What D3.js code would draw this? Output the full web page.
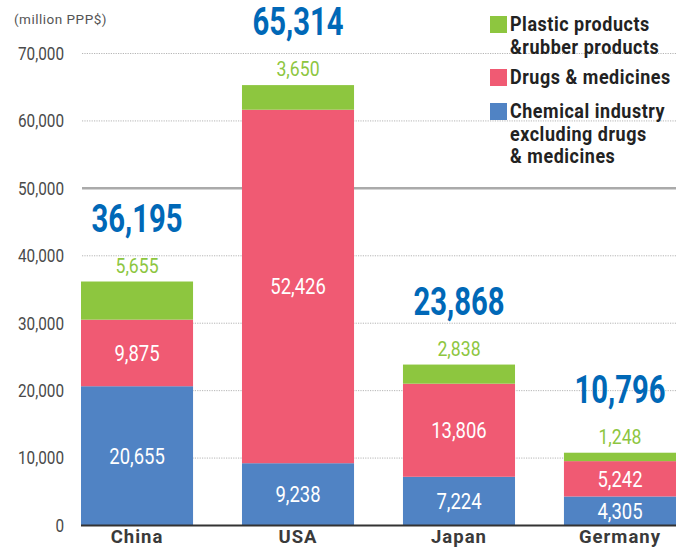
<!DOCTYPE html>
<html>
<head>
<meta charset="utf-8">
<script src="https://cdn.jsdelivr.net/npm/d3@7"></script>
<style>
  html, body { margin: 0; padding: 0; background: #fff; }
  svg { display: block; }
  text { font-family: Roboto, "Liberation Sans", sans-serif; }
</style>
</head>
<body>
<svg id="chart" width="687" height="548"></svg>
<script>
// Chemical industry output by country (million PPP$)
const countries = ["China", "USA", "Japan", "Germany"];
const chemical  = [20655, 9238, 7224, 4305];
const drugs     = [9875, 52426, 13806, 5242];
const plastic   = [5655, 3650, 2838, 1248];
const totals    = [36195, 65314, 23868, 10796];
const yTicks    = [0, 10000, 20000, 30000, 40000, 50000, 60000, 70000];

const seriesKeys = ["chemical", "drugs", "plastic"];
const seriesColor = { chemical: "#5083c4", drugs: "#f05a73", plastic: "#8dc63f" };
const legendItems = [
  { key: "plastic",  lines: ["Plastic products", "&rubber products"], y: 16 },
  { key: "drugs",    lines: ["Drugs & medicines"], y: 69 },
  { key: "chemical", lines: ["Chemical industry", "excluding drugs", "& medicines"], y: 103 }
];

const rows = countries.map((c, i) => ({
  country: c, chemical: chemical[i], drugs: drugs[i], plastic: plastic[i], total: totals[i]
}));

const svg = d3.select("#chart");
const fmt = d3.format(",");

const x = d3.scaleBand().domain(countries).range([81, 676]).paddingInner(0.304).paddingOuter(0);
const y = d3.scaleLinear().domain([0, 70000]).range([525.5, 53.5]);

// squeezed text helper (condensed look)
function label(g, txt, cx, baseline, opts) {
  return g.append("text")
    .attr("transform", `translate(${cx},${baseline}) scale(${opts.sx || 1},1)`)
    .attr("text-anchor", opts.anchor || "middle")
    .attr("font-size", opts.size)
    .attr("font-weight", opts.weight || 400)
    .attr("letter-spacing", opts.ls || 0)
    .attr("fill", opts.fill)
    .text(txt);
}

// unit caption
svg.append("text")
  .attr("x", 14).attr("y", 24)
  .attr("font-size", 13.5).attr("letter-spacing", 0.5)
  .attr("fill", "#555")
  .text("(million PPP$)");

// gridlines
const grid = svg.append("g");
grid.selectAll("line").data(yTicks.filter(d => d > 0)).join("line")
  .attr("x1", 82).attr("x2", 676)
  .attr("y1", d => y(d)).attr("y2", d => y(d))
  .attr("stroke", d => d === 50000 ? "#aaa" : "#b5b5b5")
  .attr("stroke-width", d => d === 50000 ? 2.5 : 1)
  .attr("stroke-dasharray", d => d === 50000 ? null : "1.2,1.2");

// y tick labels
const yAxis = svg.append("g");
yTicks.forEach(t => {
  label(yAxis, fmt(t), 64, y(t) + 6.4, { size: 18, sx: 0.85, anchor: "end", fill: "#4a4a4a" });
});

// stacked bars
const stack = d3.stack().keys(seriesKeys)(rows);
const bars = svg.append("g");
stack.forEach(layer => {
  bars.selectAll(null).data(layer).join("rect")
    .attr("x", d => x(d.data.country))
    .attr("width", x.bandwidth())
    .attr("y", d => y(d[1]))
    .attr("height", d => y(d[0]) - y(d[1]))
    .attr("fill", seriesColor[layer.key]);
});

// baseline
svg.append("line")
  .attr("x1", 81).attr("x2", 676)
  .attr("y1", y(0)).attr("y2", y(0))
  .attr("stroke", "#333").attr("stroke-width", 2);

// value labels
const labels = svg.append("g");
rows.forEach(r => {
  const cx = x(r.country) + x.bandwidth() / 2;
  const cap = 0.711;
  // inside segments (chemical, drugs)
  let base = 0;
  ["chemical", "drugs"].forEach(k => {
    const mid = (y(base) + y(base + r[k])) / 2;
    label(labels, fmt(r[k]), cx, mid + 22 * cap / 2, { size: 22, sx: 0.84, fill: "#fff" });
    base += r[k];
  });
  const top = y(base + r.plastic);
  label(labels, fmt(r.plastic), cx, top - 9, { size: 21, sx: 0.84, fill: "#8dc63f" });
  label(labels, fmt(r.total), cx, top - 50, { size: 38, sx: 0.77, weight: 700, fill: "#0068b7" });
});

// category labels
const cats = svg.append("g");
countries.forEach(c => {
  label(cats, c, x(c) + x.bandwidth() / 2, 543, { size: 18.5, weight: 700, ls: 1, fill: "#3a3a3a" });
});

// legend
const legend = svg.append("g");
legendItems.forEach(it => {
  legend.append("rect")
    .attr("x", 490).attr("y", it.y).attr("width", 17).attr("height", 17)
    .attr("fill", seriesColor[it.key]);
  it.lines.forEach((ln, j) => {
    label(legend, ln, 510, it.y + 15 + j * 22.5, { size: 19.5, weight: 700, ls: 0.6, sx: 0.92, anchor: "start", fill: "#222" });
  });
});
</script>
</body>
</html>
